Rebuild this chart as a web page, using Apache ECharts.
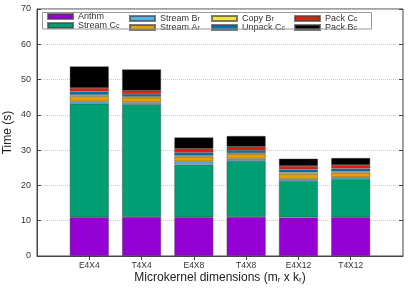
<!DOCTYPE html>
<html><head><meta charset="utf-8">
<script src="https://cdn.jsdelivr.net/npm/echarts@6/dist/echarts.min.js"></script>
<style>html,body{margin:0;padding:0;background:#fff}#c{width:419px;height:293px}</style>
</head><body><div id="c"></div>
<script>
var categories = ['E4X4', 'T4X4', 'E4X8', 'T4X8', 'E4X12', 'T4X12'];
var yTicks = [0, 10, 20, 30, 40, 50, 60, 70];
var arithm   = [11.0, 11.05, 11.0, 11.05, 10.95, 11.0];
var streamCc = [32.15, 32.0, 14.9, 15.87, 10.3, 10.73];
var streamBr = [0.65, 0.5, 0.9, 0.66, 0.57, 0.57];
var streamAr = [1.5, 1.35, 1.35, 1.32, 1.42, 1.3];
var copyBr   = [0.4, 0.3, 0.35, 0.3, 0.46, 0.4];
var unpackCc = [0.95, 0.7, 0.85, 0.75, 0.86, 0.75];
var packCc   = [0.95, 0.95, 1.05, 1.03, 0.94, 1.04];
var packBc   = [6.15, 6.05, 3.2, 3.03, 2.08, 1.98];

var seriesNames = ['Arithm', 'Stream Cc', 'Stream Br', 'Stream Ar', 'Copy Br', 'Unpack Cc', 'Pack Cc', 'Pack Bc'];
var seriesLabels = ['{m|Arithm}', '{m|Stream C}{s|c}', '{m|Stream B}{s|r}', '{m|Stream A}{s|r}', '{m|Copy B}{s|r}', '{m|Unpack C}{s|c}', '{m|Pack C}{s|c}', '{m|Pack B}{s|c}'];
var seriesData = [arithm, streamCc, streamBr, streamAr, copyBr, unpackCc, packCc, packBc];
var colors = ['#9400d3', '#009e73', '#56b4e9', '#e69f00', '#f0e442', '#0072b2', '#e51e10', '#000000'];

var axisCats = [''].concat(categories).concat(['']);
var labelMap = {};
seriesNames.forEach(function (n, i) { labelMap[n] = seriesLabels[i]; });

var series = seriesNames.map(function (n, i) {
  return {
    name: n, type: 'bar', stack: 'all', barWidth: 39,
    itemStyle: { color: colors[i], borderColor: 'rgba(70,70,70,0.7)', borderWidth: 0.6 },
    data: ['-'].concat(seriesData[i]).concat(['-'])
  };
});

var richLeg = {
  m: { fontFamily: 'Liberation Sans', fontSize: 9, color: '#333', lineHeight: 9, verticalAlign: 'top' },
  s: { fontFamily: 'Liberation Sans', fontSize: 7, color: '#333', lineHeight: 7, verticalAlign: 'bottom', padding: [4, 0, 0, 0] }
};
var legendCols = [[0, 1], [2, 3], [4, 5], [6, 7]];
var legendLeft = [47, 129, 211, 294];
var legends = legendCols.map(function (col, k) {
  return {
    orient: 'vertical', left: legendLeft[k], top: 12, padding: 0, itemGap: -2,
    itemWidth: 25, itemHeight: 5, icon: 'rect', selectedMode: false,
    data: col.map(function (i) { return seriesNames[i]; }),
    formatter: function (name) { return labelMap[name]; },
    textStyle: { fontFamily: 'Liberation Sans', fontSize: 9, color: '#333', lineHeight: 9, rich: richLeg }
  };
});

var tickInt = function (idx) { return idx > 0 && idx < axisCats.length - 1; };

var option = {
  animation: false,
  grid: { left: 37, right: 16, top: 9, bottom: 37, show: true, borderColor: '#444', borderWidth: 1,
    containLabel: false, outerBoundsMode: 'none' },
  legend: legends,
  graphic: [{ type: 'rect', shape: { x: 42.5, y: 12.5, width: 329, height: 16.5 },
    style: { fill: 'none', stroke: '#999', lineWidth: 1 }, z: 100 }],
  xAxis: [{
    type: 'category', data: axisCats, boundaryGap: false,
    axisLine: { lineStyle: { color: '#444' } },
    axisTick: { inside: true, length: 4, interval: tickInt, lineStyle: { color: '#444' } },
    axisLabel: { interval: 0, fontFamily: 'Liberation Sans', fontSize: 8.5, color: '#333', margin: 5 },
    name: '{m|Microkernel dimensions (m}{s|r}{m| x k}{s|r}{m|)}', nameLocation: 'middle', nameGap: 16,
    nameMoveOverlap: false,
    nameTextStyle: { fontFamily: 'Liberation Sans', fontSize: 12, color: '#222',
      rich: {
        m: { fontFamily: 'Liberation Sans', fontSize: 12, color: '#222', lineHeight: 12, verticalAlign: 'top' },
        s: { fontFamily: 'Liberation Sans', fontSize: 8, color: '#222', lineHeight: 8, verticalAlign: 'bottom', padding: [6, 0, 0, 0] }
      } }
  }, {
    type: 'category', data: axisCats, boundaryGap: false, position: 'top',
    axisLine: { show: false },
    axisTick: { inside: true, length: 4, interval: tickInt, lineStyle: { color: '#444' } },
    axisLabel: { show: false }
  }],
  yAxis: [{
    type: 'value', min: 0, max: 70, interval: 10,
    axisLine: { show: true, lineStyle: { color: '#444' } },
    axisTick: { show: true, inside: true, length: 4, lineStyle: { color: '#444' } },
    axisLabel: { fontFamily: 'Liberation Sans', fontSize: 9, color: '#333', margin: 6,
      formatter: function (v) { return yTicks.indexOf(v) >= 0 ? String(v) : ''; } },
    splitLine: { show: true, lineStyle: { color: '#ccc', type: 'dotted', width: 1 } },
    name: 'Time (s)', nameLocation: 'middle', nameGap: 23, nameMoveOverlap: false,
    nameTextStyle: { fontFamily: 'Liberation Sans', fontSize: 12, color: '#222' }
  }, {
    type: 'value', min: 0, max: 70, interval: 10, position: 'right',
    axisLine: { show: false },
    axisTick: { show: true, inside: true, length: 4, lineStyle: { color: '#444' } },
    axisLabel: { show: false }, splitLine: { show: false }
  }],
  series: series
};
var chart = echarts.init(document.getElementById('c'), null, { renderer: 'canvas' });
chart.setOption(option);
</script></body></html>
